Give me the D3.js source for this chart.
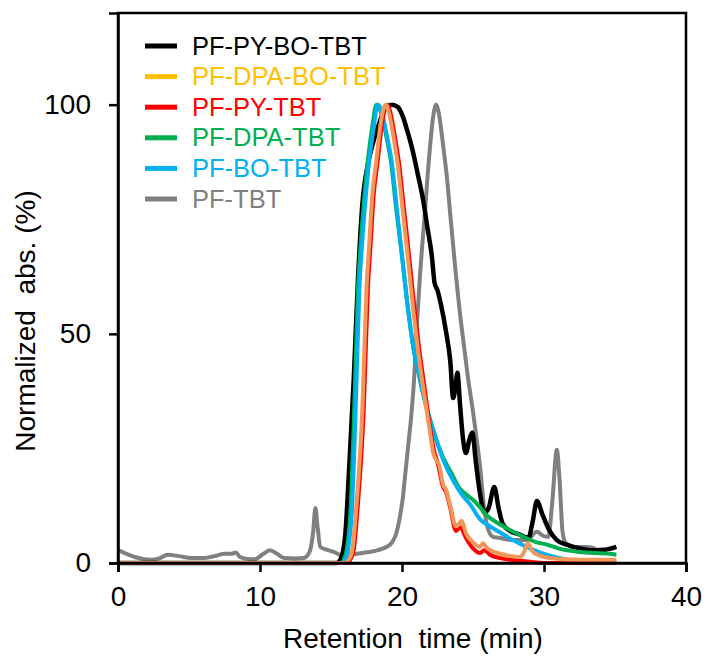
<script src='https://cdnjs.cloudflare.com/ajax/libs/d3/7.8.5/d3.min.js'></script>
<style>body{margin:0;background:#fff;} text{font-family:'Liberation Sans',Arial,sans-serif;}</style>
<svg id='chart'></svg>
<script>
// series names, legend colours and line colours (legend order)
var names=['PF-PY-BO-TBT','PF-DPA-BO-TBT','PF-PY-TBT','PF-DPA-TBT','PF-BO-TBT','PF-TBT'],
    legendCols=['#000000','#FFC000','#FF0000','#00B050','#00B0F0','#808080'],
    lineCols=['#000000','#F1975A','#FF0000','#00B050','#00B0F0','#808080'],
    xTicks=[0,10,20,30,40], yTicks=[0,50,100];

// [time (min), normalized abs (%)]
var pyBoTbt=[[0,0],[15.4,0],[15.7,1],[16.0,6],[16.3,22],[16.6,40],[16.9,62],[17.2,78],[17.6,87],[17.9,91],
  [18.4,96],[18.9,99.5],[19.3,100],[19.7,99.5],[20.05,97.5],[20.4,94],[20.75,90],[21.1,85],[21.5,79],[21.8,73],
  [22.1,67],[22.3,61],[22.5,59.5],[22.7,57],[23.1,50.5],[23.4,44],[23.6,36],[23.75,38],[23.9,41.5],[24.1,34],
  [24.3,27],[24.5,24],[24.75,27],[24.95,28.5],[25.2,22],[25.5,15],[25.8,11],[26.1,12],[26.5,16.6],[26.8,12],
  [27.1,8.5],[27.6,7],[28.3,6.2],[28.9,5.5],[29.2,9],[29.5,13.5],[29.9,10.5],[30.4,7],[30.9,5],[31.6,4],
  [32.5,3.2],[33.4,2.8],[34.3,2.9],[35.1,3.5]];
var dpaBoTbt=[[0,0],[16.0,0],[16.3,1],[16.5,2.8],[16.8,13],[17.2,33],[17.5,60],[17.7,70],[17.9,80],[18.2,88],
  [18.5,96],[18.85,100],[19.1,98],[19.4,93],[19.7,87],[20.05,77],[20.4,67],[20.8,55],[21.1,47],[21.5,38],
  [21.95,29],[22.2,24],[22.4,22.5],[22.6,21.5],[22.9,17],[23.1,16],[23.4,12.5],[23.8,8],[24.0,8.5],[24.2,9.2],
  [24.5,6.5],[25.0,4.5],[25.5,3.5],[25.7,4.3],[26.0,3.2],[26.7,2.2],[27.5,1.6],[28.3,1.3],[28.6,2.4],[28.85,4.3],
  [29.2,2.5],[29.7,1.6],[30.4,1.1],[32.5,0.7],[35.1,0.7]];
var pyTbt=[[0,0],[16.1,0],[16.4,1],[16.6,2.8],[16.9,13],[17.3,33],[17.6,60],[17.8,70],[18.0,80],[18.3,88],
  [18.6,96],[18.95,100],[19.2,98],[19.5,93],[19.8,87],[20.15,77],[20.5,67],[20.9,55],[21.2,47],[21.6,38],
  [22.0,29],[22.3,24],[22.5,22],[22.9,16.5],[23.1,15.5],[23.4,12],[23.8,7],[24.1,7.8],[24.5,5.5],[25.0,3.2],
  [25.5,2.2],[25.8,2.8],[26.2,1.8],[27.0,1.0],[28.0,0.6],[29.0,0.3],[30.0,0],[35.1,0]];
var dpaTbt=[[0,0],[15.7,0],[15.9,0.7],[16.1,2.8],[16.4,13],[16.6,30],[16.9,60],[17.1,70],[17.35,80],[17.6,88],
  [17.9,95],[18.2,100],[18.5,98.5],[18.9,93],[19.25,87],[19.6,77],[20.0,67],[20.4,56],[20.8,47],[21.2,41],
  [21.6,35.5],[22.0,31],[22.4,27],[22.9,23],[23.5,19.5],[24.0,16.5],[24.5,15],[25.0,13.8],[25.4,12.5],[26.0,10.3],
  [26.6,9],[27.6,7.2],[28.5,5.8],[29.5,4.5],[30.2,4],[31.0,3.2],[32.5,2.4],[34.6,2.0],[35.1,1.8]];
var boTbt=[[0,0],[15.8,0],[16.0,0.7],[16.2,2.8],[16.5,13],[16.7,30],[17.0,60],[17.2,70],[17.45,80],[17.7,88],
  [18.0,95],[18.3,100],[18.6,98],[18.95,93],[19.3,87],[19.65,77],[20.0,67],[20.4,56],[20.8,47],[21.2,41],
  [21.6,35.5],[22.0,31],[22.4,27],[22.9,22.5],[23.6,18],[24.2,15],[24.8,12.8],[25.5,9.5],[26.2,8],[27.0,6.5],
  [27.8,5.0],[29.0,3.2],[30.0,2],[30.9,1.2],[32.0,0.5],[33.0,0.2],[35.1,0]];
var pfTbt=[[0,2.8],[0.6,2],[1.3,1.2],[2.3,0.7],[2.9,1],[3.5,1.8],[4.3,1.5],[5.2,1.1],[6.0,1.1],[6.8,1.5],
  [7.5,2.0],[8.0,2.0],[8.3,2.3],[8.6,1.3],[9.1,0.9],[9.6,0.8],[10.2,1.9],[10.7,2.8],[11.2,2],[11.7,1.1],
  [12.5,1.0],[13.1,1.1],[13.5,2.5],[13.75,7],[13.9,12],[14.05,8],[14.25,3.5],[14.8,2.8],[15.3,2.3],[15.6,1.8],
  [16.5,1.9],[17.2,2.2],[17.7,2.4],[18.3,2.8],[18.9,3.5],[19.3,4.5],[19.6,6.5],[19.85,10],[20.05,14],[20.25,20],
  [20.45,26],[20.65,32],[20.85,40],[21.05,52],[21.25,62],[21.6,76],[21.95,90],[22.2,97.5],[22.4,100],[22.6,98],
  [22.9,91],[23.2,83],[23.4,76],[23.7,66],[24.1,54],[24.4,46.5],[24.6,41.5],[25.0,33],[25.3,26],[25.5,21],
  [25.75,13],[26.0,8],[26.4,5.7],[26.8,5.5],[27.8,5.0],[28.8,5.0],[29.5,6.8],[29.9,6],[30.3,5.7],[30.6,14],
  [30.9,24.7],[31.1,18],[31.3,7],[31.5,4.5],[32.0,3.5],[33.0,3.5],[33.6,3.2]];
var series=[pyBoTbt,dpaBoTbt,pyTbt,dpaTbt,boTbt,pfTbt];
var drawOrder=[5,0,3,4,2,1];

var W=708,H=659,margin={top:13,right:22,bottom:96,left:118},
    width=W-margin.left-margin.right, height=H-margin.top-margin.bottom;
var svg=d3.select('#chart').attr('width',W).attr('height',H);
var g=svg.append('g').attr('transform','translate('+margin.left+','+margin.top+')');
var x=d3.scaleLinear().domain([0,40]).range([0,width]),
    y=d3.scaleLinear().domain([0,120]).range([height,0]);

var line=d3.line().curve(d3.curveMonotoneX)
  .x(function(d){return x(d[0]);}).y(function(d){return y(d[1]);});
drawOrder.forEach(function(i){
  g.append('path').datum(series[i]).attr('d',line).attr('fill','none')
   .attr('stroke',lineCols[i]).attr('stroke-width',i==0?4.5:4).attr('stroke-linejoin','round');
});

// frame
g.append('rect').attr('width',width).attr('height',height)
 .attr('fill','none').attr('stroke','#000').attr('stroke-width',2.5);
var xa=g.append('g').attr('transform','translate(0,'+height+')')
  .call(d3.axisBottom(x).tickValues(xTicks).tickSize(9).tickPadding(14));
var ya=g.append('g').call(d3.axisLeft(y).tickValues(yTicks).tickSize(9).tickPadding(18));
[xa,ya].forEach(function(a){
  a.select('.domain').attr('stroke-width',2.5);
  a.selectAll('line').attr('stroke-width',2.5);
  a.selectAll('text').attr('font-size',28).attr('fill','#000').style('font-family','Liberation Sans, Arial, sans-serif');
});
svg.append('text').attr('x',413).attr('y',648).attr('text-anchor','middle')
 .attr('font-size',28).style('white-space','pre').text('Retention  time (min)');
svg.append('text').attr('transform','translate(35,321) rotate(-90)').attr('text-anchor','middle')
 .attr('font-size',28).style('white-space','pre').text('Normalized  abs. (%)');

// legend
var lg=svg.append('g').attr('transform','translate(145,46)');
names.forEach(function(n,i){
  var r=lg.append('g').attr('transform','translate(0,'+i*30.6+')');
  r.append('line').attr('x1',0).attr('x2',32).attr('stroke',legendCols[i]).attr('stroke-width',5);
  r.append('text').attr('x',47).attr('y',8.5).attr('font-size',25.5).attr('fill',legendCols[i]).text(n);
});
</script>
